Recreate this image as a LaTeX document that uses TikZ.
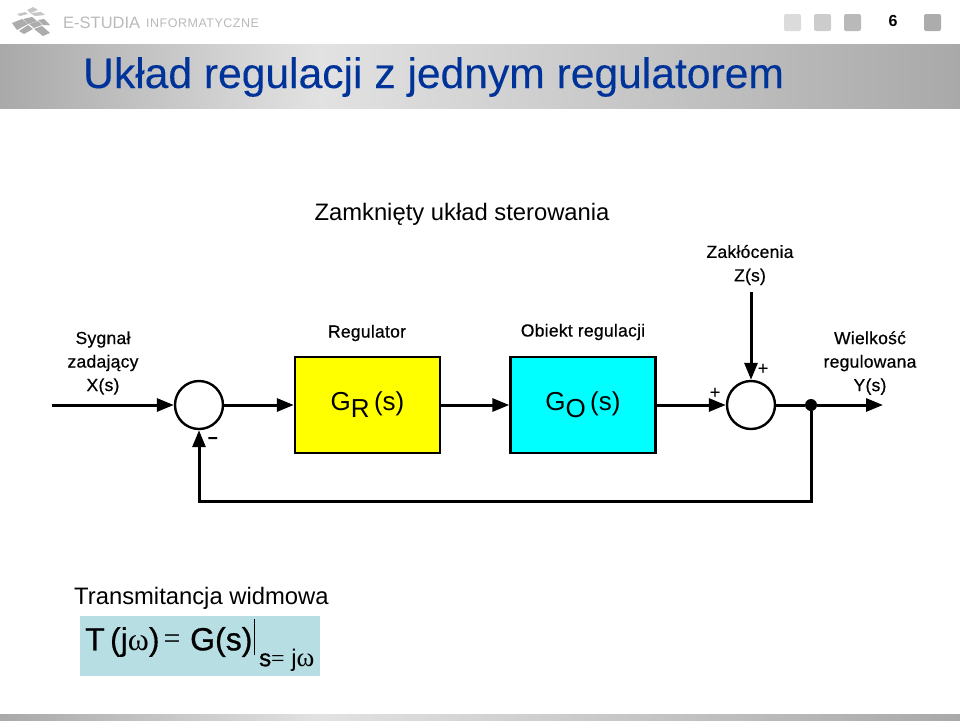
\documentclass[tikz,border=0pt]{standalone}
\usepackage{fontspec}
\setmainfont{Liberation Sans}
\newfontfamily\greekfont{Liberation Serif}
\usetikzlibrary{arrows.meta}
\definecolor{titleblue}{HTML}{003399}
\definecolor{formulabg}{HTML}{B7DFE3}
\definecolor{blockyellow}{HTML}{FFFF00}
\definecolor{blockcyan}{HTML}{00FFFF}
\definecolor{bandlight}{HTML}{E2E2E2}
\definecolor{banddark}{HTML}{A9A9A9}
\newcommand{\fsize}[2]{\fontsize{#1}{#2}\selectfont}
\newcommand{\heavy}[1]{\addfontfeature{FakeBold=#1}}
\tikzset{
  sig/.style={line width=3pt, -{Triangle[length=17pt,width=13pt]}},
  line/.style={line width=3pt},
  sumnode/.style={circle, draw, line width=2.4pt, fill=white, minimum size=48pt, inner sep=0pt},
  block/.style={draw, line width=2.4pt, minimum width=145pt, minimum height=96pt, inner sep=0pt, font=\fsize{26}{30}},
  lab/.style={align=center, inner sep=0pt, font=\fsize{17.5}{23.5}\heavy{0.6}\addfontfeature{LetterSpace=1.5}},
  caption/.style={inner sep=0pt, font=\fsize{23.8}{28}},
  bandl/.style={left color=banddark, right color=bandlight, draw=none},
  bandr/.style={left color=bandlight, right color=banddark, draw=none},
  navbtn/.style={rounded corners=2pt, draw=none},
  tile/.style={fill=gray!65, draw=none}
}
\begin{document}
\begin{tikzpicture}[x=1pt, y=-1pt]
  \useasboundingbox (0,0) rectangle (960,720);
  % header and footer
  \shade[bandl] (0,44) rectangle (320,108);
  \shade[bandr] (320,44) rectangle (960,108);
  \shade[bandl] (0,714) rectangle (320,720);
  \shade[bandr] (320,714) rectangle (960,720);
  \fill[tile] (12,23) -- (22,19) -- (28,24) -- (17,30) -- cycle;
  \fill[tile] (19,31) -- (28,25) -- (33,29) -- (24,34) -- cycle;
  \fill[tile] (34,29) -- (42,26) -- (50,33) -- (43,36) -- cycle;
  \fill[tile] (23,19) -- (32,17) -- (37,21) -- (28,24) -- cycle;
  \fill[tile] (29,24) -- (38,21) -- (42,25) -- (34,28) -- cycle;
  \fill[tile] (38,20) -- (44,19) -- (50,25) -- (43,25) -- cycle;
  \fill[tile, gray!45] (17,14) -- (25,12) -- (28,14) -- (20,16) -- cycle;
  \fill[tile, gray!45] (27,10) -- (33,7) -- (38,10) -- (30,13) -- cycle;
  \fill[tile, gray!45] (30,13) -- (41,12) -- (45,15) -- (35,16) -- cycle;
  \node[inner sep=0pt, anchor=west, text=gray!55, font=\fsize{16.5}{20}] (brand) at (63,22.5) {E-STUDIA};
  \node[inner sep=0pt, anchor=west, text=gray!55, font=\fsize{12.5}{15}] (brandsub) at (146,23) {\addfontfeature{LetterSpace=4}INFORMATYCZNE};
  \fill[navbtn, gray!28] (784,14) rectangle (801,31);
  \fill[navbtn, gray!40] (814,14) rectangle (831,31);
  \fill[navbtn, gray!55] (844,14) rectangle (861,31);
  \fill[navbtn, gray!65] (924,14) rectangle (941,31);
  \node[inner sep=0pt, font=\fsize{16}{18}\bfseries] (page) at (893,21) {6};
  \node[inner sep=0pt, anchor=west, text=titleblue, font=\fsize{42.6}{46}\heavy{0.2}] (title) at (83,77) {Układ regulacji z jednym regulatorem};
  % diagram
  \node[caption] (cap) at (462,214) {Zamknięty układ sterowania};
  \coordinate (inp) at (52,405);
  \node[sumnode] (sumx) at (199,405) {};
  \node[block, fill=blockyellow] (gr) at (367.5,405) {G\raisebox{-7pt}{R}\,(s)};
  \node[block, fill=blockcyan] (go) at (583,405) {G\raisebox{-7pt}{O}\,(s)};
  \node[sumnode] (sumz) at (751,405) {};
  \node[circle, fill=black, minimum size=12pt, inner sep=0pt] (tap) at (811,405) {};
  \coordinate (out) at (883,405);
  \coordinate (dist) at (751,292);
  \coordinate (back) at (199,501);
  \draw[sig] (inp) -- (sumx);
  \draw[sig] (sumx) -- (gr);
  \draw[sig] (gr) -- (go);
  \draw[sig] (go) -- (sumz);
  \draw[line] (sumz) -- (tap);
  \draw[sig] (tap) -- (out);
  \draw[sig] (dist) -- (sumz);
  \draw[sig] (tap) |- (back) -- (sumx);
  \node[lab] (lx) at (103,363) {Sygnał\\zadający\\X(s)};
  \node[lab] (lr) at (367,333) {Regulator};
  \node[lab] (lo) at (583,332) {Obiekt regulacji};
  \node[lab] (lz) at (750,265) {Zakłócenia\\Z(s)};
  \node[lab] (ly) at (870,363) {Wielkość\\regulowana\\Y(s)};
  \node[lab] (minus) at (213,440) {\textbf{–}};
  \node[lab] (plusz) at (763,369) {+};
  \node[lab] (plusg) at (715,393) {+};
  % formula
  \node[caption, anchor=west] (trans) at (74,598) {Transmitancja widmowa};
  \node[fill=formulabg, minimum width=240pt, minimum height=60pt, inner sep=0pt] (fbox) at (200,646) {};
  \node[inner sep=0pt, anchor=west, font=\fsize{32}{34}] (flhs) at (85,642) {\heavy{0.5}T\,(j{\greekfont ω})};
  \node[inner sep=0pt, font=\fsize{30}{32}\greekfont] (feq) at (172,642) {=};
  \node[inner sep=0pt, anchor=west, font=\fsize{32}{34}] (frhs) at (190,642) {\heavy{0.8}G(s)};
  \node[inner sep=0pt, anchor=west, font=\fsize{24}{26}] (fsub) at (259,660) {{\heavy{1}s}{\greekfont =} j{\fsize{27}{26}\greekfont ω}};
  \coordinate (ra) at (254,619);
  \coordinate (rb) at (254,655);
  \draw[line width=0.8pt] (ra) -- (rb);
\end{tikzpicture}
\end{document}
